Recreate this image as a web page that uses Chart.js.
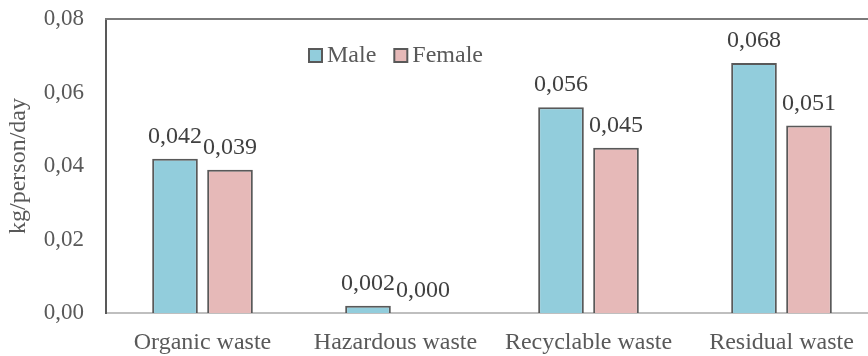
<!DOCTYPE html>
<html>
<head>
<meta charset="utf-8">
<script src="https://cdn.jsdelivr.net/npm/chart.js@4"></script>
<style>
  html, body { margin: 0; padding: 0; background: #fff; overflow: hidden; }
  #wrap { width: 868px; height: 356px; position: relative; overflow: hidden; }
  #c { position: absolute; left: 0; top: 0; }
</style>
</head>
<body>
<div id="wrap"><canvas id="c" width="878" height="356"></canvas></div>
<script>
// Waste generation per person per day, by gender
const categories = ['Organic waste', 'Hazardous waste', 'Recyclable waste', 'Residual waste'];
const maleValues = [0.042, 0.002, 0.056, 0.068];
const femaleValues = [0.039, 0.000, 0.045, 0.051];
const seriesNames = ['Male', 'Female'];
const yMin = 0, yMax = 0.08, yStep = 0.02;

const FONT = 'Liberation Serif, "Times New Roman", serif';
const SIZE = 24;
const TICK_SIZE = 23;
const TEXT = '#595959';
const EDGE = '#595959';
const fmt = (v, d) => v.toFixed(d).replace('.', ',');

// value labels above each bar
const valueLabels = {
  id: 'valueLabels',
  afterDatasetsDraw(chart) {
    const ctx = chart.ctx;
    ctx.save();
    ctx.font = SIZE + 'px ' + FONT;
    ctx.fillStyle = '#404040';
    ctx.textAlign = 'center';
    ctx.textBaseline = 'alphabetic';
    chart.data.datasets.forEach((ds, i) => {
      chart.getDatasetMeta(i).data.forEach((bar, j) => {
        ctx.fillText(fmt(ds.data[j], 3), bar.x, bar.y - 16);
      });
    });
    ctx.restore();
  }
};

// top frame line and the inline legend
const frameAndLegend = {
  id: 'frameAndLegend',
  afterDraw(chart) {
    const ctx = chart.ctx;
    const a = chart.chartArea;
    ctx.save();
    ctx.strokeStyle = '#7a7a7a';
    ctx.lineWidth = 2;
    ctx.beginPath();
    ctx.moveTo(a.left - 1, a.top);
    ctx.lineTo(chart.width, a.top);
    ctx.stroke();

    ctx.font = SIZE + 'px ' + FONT;
    ctx.textBaseline = 'alphabetic';
    ctx.textAlign = 'left';
    let x = 309;
    const boxY = 49, box = 13, baseY = 62;
    chart.data.datasets.forEach((ds) => {
      ctx.fillStyle = ds.backgroundColor;
      ctx.fillRect(x, boxY, box, box);
      ctx.strokeStyle = EDGE;
      ctx.lineWidth = 2;
      ctx.strokeRect(x, boxY, box, box);
      ctx.fillStyle = TEXT;
      ctx.fillText(ds.label, x + box + 5, baseY);
      x += box + 5 + ctx.measureText(ds.label).width + 18;
    });
    ctx.restore();
  }
};

new Chart(document.getElementById('c'), {
  type: 'bar',
  data: {
    labels: categories,
    datasets: [
      { label: seriesNames[0], data: maleValues, backgroundColor: '#92CDDC',
        borderColor: EDGE, borderWidth: 2 },
      { label: seriesNames[1], data: femaleValues, backgroundColor: '#E6B9B8',
        borderColor: EDGE, borderWidth: 2 }
    ]
  },
  options: {
    responsive: false,
    animation: false,
    devicePixelRatio: 1,
    layout: { padding: { top: 19, right: 0, left: 0, bottom: 0 } },
    datasets: { bar: { categoryPercentage: 0.57, barPercentage: 0.83 } },
    plugins: { legend: { display: false }, tooltip: { enabled: false } },
    scales: {
      x: {
        grid: { display: false, drawTicks: false },
        border: { display: true, color: '#bfbfbf', width: 2 },
        ticks: { color: TEXT, font: { family: FONT, size: SIZE }, padding: 15, maxRotation: 0 },
        afterFit: (s) => { s.height = 43; }
      },
      y: {
        min: yMin, max: yMax,
        grid: { display: false, drawTicks: true, tickLength: 22, tickColor: 'rgba(0,0,0,0)' },
        border: { display: true, color: EDGE, width: 2 },
        ticks: {
          stepSize: yStep, color: TEXT, padding: 0,
          font: { family: FONT, size: TICK_SIZE },
          callback: (v) => fmt(v, 2)
        },
        title: {
          display: true, text: 'kg/person/day', color: TEXT,
          font: { family: FONT, size: SIZE }, padding: { top: 4, bottom: 0 }
        },
        afterFit: (s) => { s.width = 106; }
      }
    }
  },
  plugins: [valueLabels, frameAndLegend]
});
</script>
</body>
</html>
